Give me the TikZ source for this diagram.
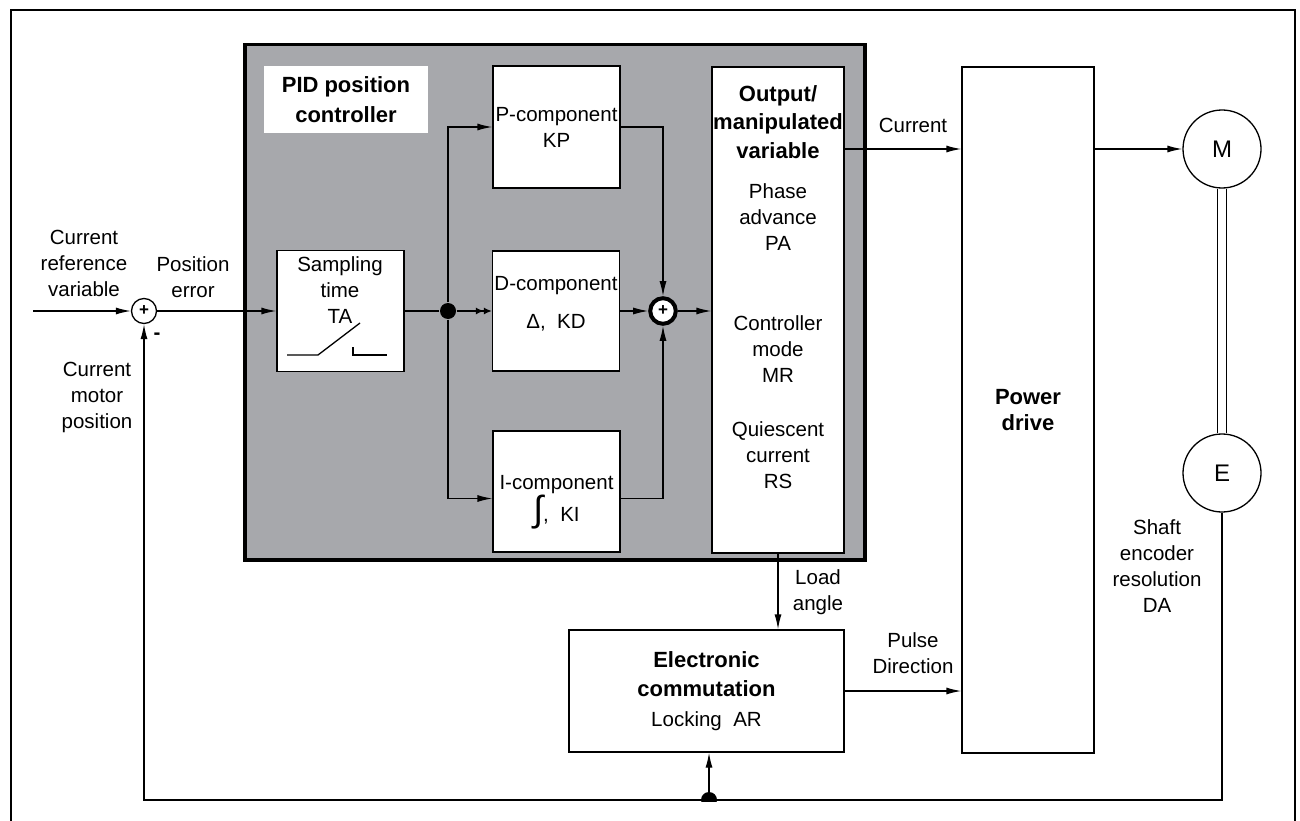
\documentclass[tikz,border=0pt]{standalone}
\usepackage{fontspec}
\setmainfont{Liberation Sans}
\usetikzlibrary{positioning,arrows.meta,calc}

\definecolor{pidgray}{RGB}{167,168,172}
\newcommand{\diagfont}{\fontsize{20.5}{26}\selectfont}
\newcommand{\headfont}{\fontsize{22}{29}\selectfont\bfseries}

\begin{document}
\begin{tikzpicture}[
    x=1pt, y=-1pt,
    font=\diagfont,
    line width=1.3pt,
    box/.style={rectangle, draw, fill=white, align=center, inner sep=0pt},
    txt/.style={align=center, inner sep=0pt},
    head/.style={txt, font=\headfont},
    arr/.style={-{Latex[length=15pt,width=7pt]}},
    darr/.style={-{Latex[length=8pt,width=7pt]Latex[length=8pt,width=7pt]}},
    sumj/.style={circle, draw, fill=white, minimum size=25pt, inner sep=0pt, font=\fontsize{17}{17}\selectfont\bfseries},
    jdot/.style={circle, fill, minimum size=16pt, inner sep=0pt},
    machine/.style={circle, draw, minimum size=78pt, inner sep=0pt, font=\fontsize{24}{24}\selectfont}
]

\useasboundingbox (0,0) rectangle (1300,821);

% Frame
\draw[line width=2.5pt] (11,835) -- (11,10) -- (1295,10) -- (1295,835);

% PID controller block
\node[draw, fill=pidgray, line width=3.5pt, minimum width=620pt, minimum height=515pt, anchor=north west] (pid) at (243,43) {};
\node[txt, fill=white, minimum width=164pt, minimum height=67pt, font=\fontsize{22}{30}\selectfont\bfseries] (pidlbl) at (346,99.5) {PID\hspace{6pt}position\\controller};

% Sampling
\node[box, minimum width=127pt, minimum height=121pt] (samp) at (340.5,311) {};
\node[txt] (samptxt) at (340,290) {Sampling\\time\\TA};
\draw (287,355) -- (318,355) -- (360,323);
\draw (353,347) -- (353,355) -- (387,355);

% P, D and I components
\node[box, minimum width=127pt, minimum height=122pt] (pcomp) at (556.5,127) {P-component\\KP};
\node[box, minimum width=127pt, minimum height=120pt] (dcomp) at (556,311) {};
\node[txt] (dtxt) at (556,304) {D-component\\[12pt]Δ,~~KD};
\node[box, minimum width=127pt, minimum height=121pt] (icomp) at (556.5,491.5) {};
\node[txt] (itxt) at (556.5,502) {I-component\\{\fontsize{36}{36}\selectfont ∫},~~KI};

% Output block
\node[box, minimum width=132pt, minimum height=486pt] (outv) at (778,310) {};
\node[txt, font=\fontsize{22}{28.5}\selectfont\bfseries] (outhead) at (778,122) {Output/\\manipulated\\variable};
\node[txt] (phase) at (778,217) {Phase\\advance\\PA};
\node[txt] (cmode) at (778,349) {Controller\\mode\\MR};
\node[txt] (quiesc) at (778,455) {Quiescent\\current\\RS};

% Power drive, motor, encoder
\node[box, minimum width=132pt, minimum height=686pt, font=\fontsize{22}{26}\selectfont\bfseries] (power) at (1028,410) {Power\\drive};
\node[machine] (mot) at (1222,149) {M};
\node[machine] (enc) at (1222,473) {E};
\draw ([xshift=-4.5pt]mot.south) -- ([xshift=-4.5pt]enc.north);
\draw ([xshift=4.5pt]mot.south) -- ([xshift=4.5pt]enc.north);

% Electronic commutation
\node[box, minimum width=275pt, minimum height=122pt, font=\fontsize{22}{29.5}\selectfont] (ecomm) at (706.5,691) {\textbf{Electronic}\\\textbf{commutation}\\{\diagfont Locking~~AR}};

% Junctions
\coordinate (inp) at (33,311);
\node[sumj] (sum1) at (144,311) {+};
\node[jdot] (br) at (448,311) {};
\node[sumj, line width=4pt, minimum size=25.6pt] (sum2) at (663,311) {+};

% Signal path
\draw[arr] (inp) -- (sum1);
\draw[arr] (sum1) -- (samp);
\draw (samp) -- (br);
\draw[arr] (br) |- (pcomp.west);
\draw[darr] (br) -- (dcomp);
\draw[arr] (br) |- ([yshift=-7pt]icomp.west);
\draw[arr] (pcomp) -| (sum2);
\draw[arr] ([yshift=-7pt]icomp.east) -| (sum2);
\draw[arr] (dcomp) -- (sum2);
\draw[arr] (sum2) -- (sum2 -| outv.west);
\draw[arr] (mot -| outv.east) -- (mot -| power.west);
\draw[arr] (mot -| power.east) -- (mot);
\draw[arr] (outv) -- (outv |- ecomm.north);
\draw[arr] (ecomm) -- (ecomm -| power.west);

% Feedback
\coordinate (botj) at (709,800);
\coordinate (fbl) at (144,800);
\draw[arr] (enc) |- (fbl) -- (sum1);
\draw[arr] (botj) -- (botj |- ecomm.south);
\begin{scope}
  \clip (699,789) rectangle (719,801);
  \fill (botj) circle[radius=8pt];
\end{scope}

% Labels
\node[txt] (refvar) at (84,263) {Current\\reference\\variable};
\node[txt] (poserr) at (193,277) {Position\\error};
\node[txt] (motpos) at (97,397) {Current\\motor\\position};
\node[txt, font=\diagfont\bfseries] (minus) at (157,336) {-};
\node[txt] (curlbl) at (913,125) {Current};
\node[txt] (loadlbl) at (818,592) {Load\\angle};
\node[txt] (pulselbl) at (913,653) {Pulse\\Direction};
\node[txt] (shaftlbl) at (1157,566) {Shaft\\encoder\\resolution\\DA};

\end{tikzpicture}
\end{document}
